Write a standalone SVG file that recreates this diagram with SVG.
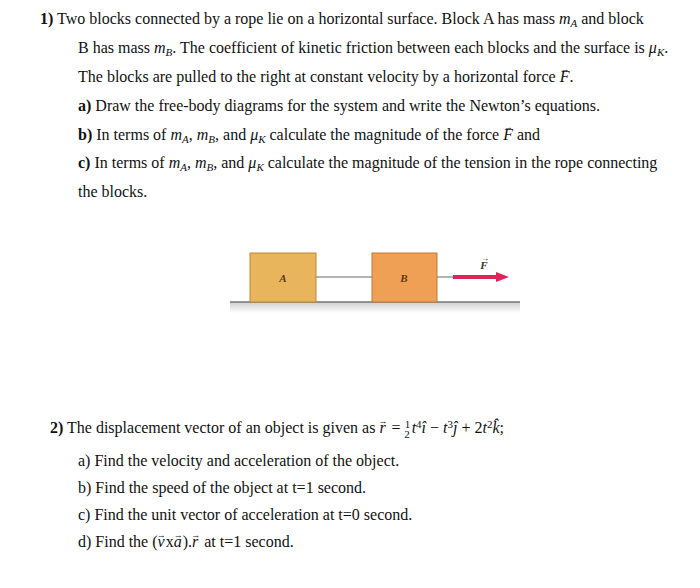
<svg xmlns="http://www.w3.org/2000/svg" width="700" height="588" viewBox="0 0 700 588">
<defs>
<style>
text{font-family:"Liberation Serif","DejaVu Serif",serif;font-size:16px;fill:#111}
.b{font-weight:bold}
.i{font-style:italic}
.s{font-size:11px}
.ar{font-size:9px}
.lbl{font-style:italic;font-weight:bold;font-size:11px;fill:#5a3a10}
</style>
<linearGradient id="g" x1="0" y1="0" x2="0" y2="1"><stop offset="0" stop-color="#cfcfcf"/><stop offset="1" stop-color="#ffffff"/></linearGradient>
</defs>
<rect width="700" height="588" fill="#fff"/>
<text x="40" y="24"><tspan class="b">1)</tspan>  Two blocks connected by a rope lie on a horizontal surface. Block A has mass <tspan class="i">m</tspan><tspan class="i s" dy="3">A</tspan><tspan dy="-3"> and block</tspan></text>
<text x="78" y="53">B has mass <tspan class="i">m</tspan><tspan class="i s" dy="3">B</tspan><tspan dy="-3">. The coefficient of kinetic friction between each blocks and the surface is </tspan><tspan class="i">μ</tspan><tspan class="i s" dy="3">K</tspan><tspan dy="-3">.</tspan></text>
<text x="78" y="82">The blocks are pulled to the right at constant velocity by a horizontal force  <tspan class="i">F</tspan><tspan class="ar" dx="-9" dy="-10">→</tspan><tspan dy="10">.</tspan></text>
<text x="78" y="111"><tspan class="b">a)</tspan> Draw the free-body diagrams for the system and write the Newton’s equations.</text>
<text x="78" y="140"><tspan class="b">b)</tspan> In terms of <tspan class="i">m</tspan><tspan class="i s" dy="3">A</tspan><tspan dy="-3">, </tspan><tspan class="i">m</tspan><tspan class="i s" dy="3">B</tspan><tspan dy="-3">, and </tspan><tspan class="i">μ</tspan><tspan class="i s" dy="3">K</tspan><tspan dy="-3"> calculate the magnitude of the force </tspan><tspan class="i">F</tspan><tspan class="ar" dx="-9" dy="-10">→</tspan><tspan dy="10"> and</tspan></text>
<text x="78" y="168"><tspan class="b">c)</tspan> In terms of <tspan class="i">m</tspan><tspan class="i s" dy="3">A</tspan><tspan dy="-3">, </tspan><tspan class="i">m</tspan><tspan class="i s" dy="3">B</tspan><tspan dy="-3">, and </tspan><tspan class="i">μ</tspan><tspan class="i s" dy="3">K</tspan><tspan dy="-3"> calculate the magnitude of the tension in the rope connecting</tspan></text>
<text x="78" y="197">the blocks.</text>

<rect x="230" y="302" width="290" height="11" fill="url(#g)"/>
<g id="connectors">
<line x1="230" y1="302" x2="520" y2="302" stroke="#777" stroke-width="1.5"/>
<line x1="316" y1="277" x2="372" y2="277" stroke="#999" stroke-width="1.5"/>
<line x1="437" y1="277" x2="453" y2="277" stroke="#999" stroke-width="1.5"/>
<line x1="453" y1="277" x2="498" y2="277" stroke="#e0245a" stroke-width="4"/>
<polygon points="496,272 509,277 496,282" fill="#e0245a"/>
</g>
<g id="blockA"><rect x="250" y="253" width="66" height="49" fill="#e8b55c" stroke="#b98a3a"/><text class="lbl" x="283" y="282" text-anchor="middle">A</text></g>
<g id="blockB"><rect x="372" y="253" width="65" height="49" fill="#f0a055" stroke="#c07a3a"/><text class="lbl" x="404" y="282" text-anchor="middle">B</text></g>
<text class="lbl" x="484" y="269" text-anchor="middle" style="fill:#333">F</text>
<text class="ar" x="485" y="261" text-anchor="middle" style="font-size:8px">→</text>

<text x="50" y="433"><tspan class="b">2)</tspan>  The displacement vector of an object is given as <tspan class="i">r</tspan><tspan class="ar" dx="-7" dy="-9">→</tspan><tspan dy="9"> = </tspan><tspan class="s" dy="-5">1</tspan><tspan class="s" dx="-6" dy="10">2</tspan><tspan class="i" dx="2" dy="-5">t</tspan><tspan class="s" dy="-5">4</tspan><tspan class="i" dy="5">î</tspan> − <tspan class="i">t</tspan><tspan class="s" dy="-5">3</tspan><tspan class="i" dy="5">ĵ</tspan> + 2<tspan class="i">t</tspan><tspan class="s" dy="-5">2</tspan><tspan class="i" dy="5">k̂</tspan>;</text>
<text x="78" y="466">a) Find the velocity and acceleration of the object.</text>
<text x="78" y="493">b) Find the speed of the object at t=1 second.</text>
<text x="78" y="520">c) Find the unit vector of acceleration at t=0 second.</text>
<text x="78" y="547">d) Find the (<tspan class="i">v</tspan><tspan class="ar" dx="-8" dy="-9">→</tspan><tspan dy="9">x</tspan><tspan class="i">a</tspan><tspan class="ar" dx="-8" dy="-9">→</tspan><tspan dy="9">).</tspan><tspan class="i">r</tspan><tspan class="ar" dx="-7" dy="-9">→</tspan><tspan dy="9">  at t=1 second.</tspan></text>
</svg>
